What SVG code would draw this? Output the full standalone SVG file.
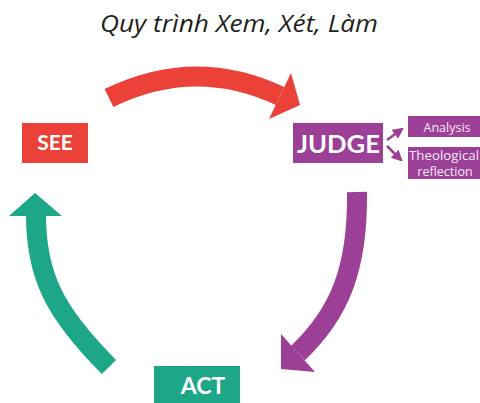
<svg xmlns="http://www.w3.org/2000/svg" width="480" height="403" viewBox="0 0 480 403">
<style>
.lbl{font-family:Lato,"Liberation Sans",sans-serif;font-weight:bold;fill:#fff;text-anchor:middle}
.sm{font-family:"Open Sans","Liberation Sans",sans-serif;fill:#f6eaf5;text-anchor:middle;font-size:12.5px}
.shaft{fill:none;stroke-width:20;stroke-linecap:butt}
</style>
<defs>
<marker id="ah" viewBox="0 0 10 10" refX="8" refY="5" markerWidth="4.5" markerHeight="4.5" orient="auto" markerUnits="strokeWidth">
<path d="M0,0 L10,5 L0,10 z" fill="#9c3f97"/>
</marker>
</defs>
<rect width="480" height="403" fill="#fff"/>
<text x="239" y="32" font-family="'Open Sans','Noto Sans',sans-serif" font-style="italic" font-size="23" fill="#231f20" text-anchor="middle" textLength="278" lengthAdjust="spacingAndGlyphs">Quy trình Xem, Xét, Làm</text>
<g id="connectors">
<g id="arrow-see-judge">
<path class="shaft" stroke="#eb4138" d="M109,98 Q195,56 280,96"/>
<polygon fill="#eb4138" points="291,73 300,105 269,119"/>
</g>
<g id="arrow-judge-act">
<path class="shaft" stroke="#9c3f97" d="M357,192 C358,268 340,313 298,353"/>
<polygon fill="#9c3f97" points="281,334 281,369 315,372"/>
</g>
<g id="arrow-act-see">
<path class="shaft" stroke="#1ea688" d="M109,367 C54,312 36,275 36,215"/>
<polygon fill="#1ea688" points="9,216 35,193 62,216"/>
</g>
<g id="arrow-judge-analysis">
<line x1="387" y1="140" x2="402" y2="129" stroke="#9c3f97" stroke-width="2.5" marker-end="url(#ah)"/>
</g>
<g id="arrow-judge-theo">
<line x1="387" y1="146" x2="401" y2="160" stroke="#9c3f97" stroke-width="2.5" marker-end="url(#ah)"/>
</g>
</g>
<g id="see">
<rect x="22" y="123" width="66" height="40" fill="#eb4138"/>
<text class="lbl" x="55" y="150" font-size="21">SEE</text>
</g>
<g id="judge">
<rect x="293" y="123" width="90" height="40" fill="#9c3f97"/>
<text class="lbl" x="338.5" y="153" font-size="24" textLength="83" lengthAdjust="spacingAndGlyphs">JUDGE</text>
</g>
<g id="act">
<rect x="154" y="366" width="86" height="40" fill="#1ea688"/>
<text class="lbl" x="203" y="394" font-size="23">ACT</text>
</g>
<g id="analysis">
<rect x="408" y="116" width="80" height="21" fill="#9c3f97"/>
<text class="sm" x="447" y="131.5" font-size="13.5">Analysis</text>
</g>
<g id="theological">
<rect x="408" y="147" width="80" height="32" fill="#9c3f97"/>
<text class="sm" x="444" y="159.5" textLength="70" lengthAdjust="spacingAndGlyphs">Theological</text>
<text class="sm" x="445" y="175.5">reflection</text>
</g>
</svg>
